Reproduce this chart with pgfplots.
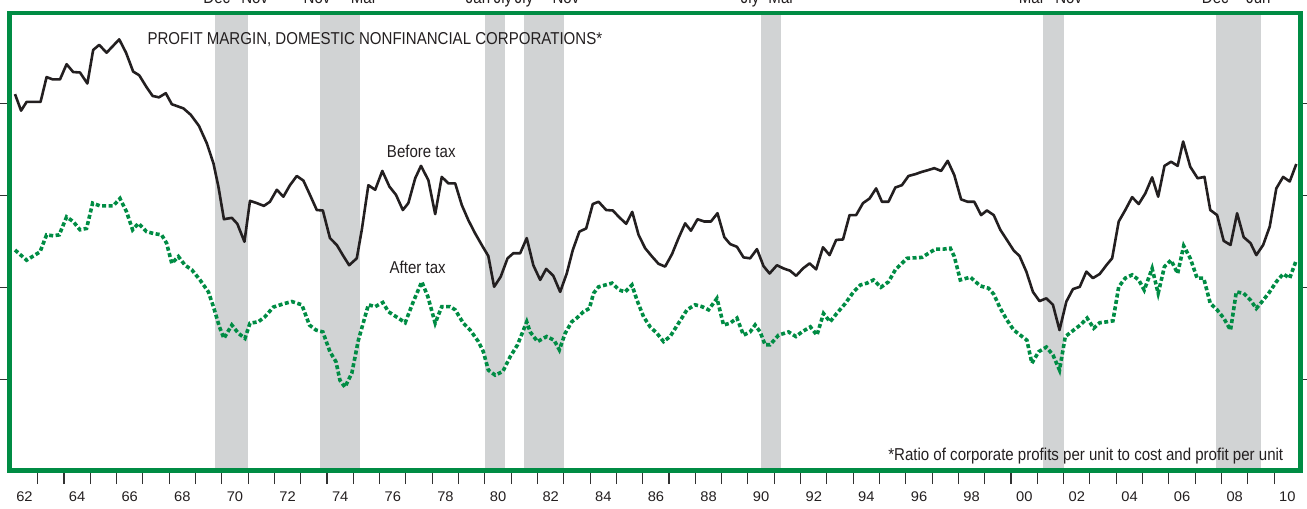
\documentclass[border=0pt]{standalone}
\usepackage{fontspec}
\setmainfont{Liberation Sans}[FakeStretch=0.875]
\newfontfamily\tickfont{Liberation Sans}[FakeStretch=1.05]
\usepackage{pgfplots}
\pgfplotsset{compat=1.18}
\definecolor{fgreen}{RGB}{0,140,68}
\definecolor{bandc}{RGB}{209,211,212}
\definecolor{linec}{RGB}{35,31,32}
\definecolor{textc}{RGB}{35,31,32}
\definecolor{tickc}{RGB}{50,50,50}
\newcommand\lab{\fontsize{17.2}{20}\selectfont}
\tikzset{mlab/.style={anchor=base, inner sep=0, text=textc, font=\lab, overlay}}
\begin{document}
\begin{tikzpicture}
\begin{axis}[name=ax, at={(0,0)}, anchor=south west,
  width=1291pt, height=457.2pt, scale only axis,
  xmin=1961.93, xmax=2011.0, ymin=4.017, ymax=13.957,
  clip=false, axis on top,
  axis line style={draw=fgreen, line width=4.4pt},
  tick align=outside,
  xtick pos=left, ytick pos=both,
  xtick={1962.5,1964.5,1966.5,1968.5,1970.5,1972.5,1974.5,1976.5,1978.5,1980.5,1982.5,1984.5,1986.5,1988.5,1990.5,1992.5,1994.5,1996.5,1998.5,2000.5,2002.5,2004.5,2006.5,2008.5,2010.5},
  xticklabels={62,64,66,68,70,72,74,76,78,80,82,84,86,88,90,92,94,96,98,00,02,04,06,08,10},
  major x tick style={draw=none},
  minor xtick={1963,1964,...,2010},
  minor tick length=13.5pt,
  minor x tick style={draw=tickc, line width=1.1pt},
  ytick={6,8,10,12}, yticklabels={},
  major tick length=10pt,
  major y tick style={draw=tickc, line width=1.1pt},
  xticklabel style={font=\tickfont\fontsize{14}{16}\selectfont, text=textc, anchor=base, yshift=-21pt},
]
% recession bands
\fill[bandc] (axis cs:1969.75,4.017) rectangle (axis cs:1971.0,13.957);
\fill[bandc] (axis cs:1973.75,4.017) rectangle (axis cs:1975.25,13.957);
\fill[bandc] (axis cs:1980.0,4.017) rectangle (axis cs:1980.75,13.957);
\fill[bandc] (axis cs:1981.5,4.017) rectangle (axis cs:1983.0,13.957);
\fill[bandc] (axis cs:1990.5,4.017) rectangle (axis cs:1991.25,13.957);
\fill[bandc] (axis cs:2001.2,4.017) rectangle (axis cs:2002.0,13.957);
\fill[bandc] (axis cs:2007.8,4.017) rectangle (axis cs:2009.5,13.957);
% before tax
\addplot[linec, line width=2.6pt, line join=round, mark=none] coordinates {
(1962.14,12.20)(1962.37,11.84)(1962.58,12.03)(1963.11,12.03)(1963.34,12.57)(1963.57,12.52)(1963.85,12.52)(1964.10,12.85)(1964.35,12.68)(1964.61,12.67)(1964.89,12.43)(1965.11,13.16)(1965.34,13.27)(1965.62,13.10)(1966.10,13.39)(1966.36,13.10)(1966.63,12.69)(1966.86,12.61)(1967.14,12.35)(1967.37,12.16)(1967.61,12.13)(1967.87,12.22)(1968.10,11.98)(1968.54,11.89)(1968.82,11.75)(1969.13,11.51)(1969.43,11.13)(1969.68,10.70)(1969.87,10.19)(1970.08,9.48)(1970.38,9.51)(1970.59,9.38)(1970.86,8.99)(1971.07,9.88)(1971.33,9.83)(1971.60,9.77)(1971.83,9.86)(1972.09,10.12)(1972.34,9.97)(1972.59,10.22)(1972.85,10.42)(1973.10,10.32)(1973.35,10.01)(1973.61,9.68)(1973.84,9.67)(1974.11,9.07)(1974.37,8.92)(1974.62,8.68)(1974.84,8.48)(1975.13,8.63)(1975.32,9.25)(1975.57,10.22)(1975.83,10.12)(1976.10,10.53)(1976.37,10.19)(1976.62,10.01)(1976.88,9.68)(1977.09,9.83)(1977.35,10.37)(1977.57,10.64)(1977.85,10.33)(1978.11,9.59)(1978.36,10.40)(1978.61,10.26)(1978.87,10.26)(1979.12,9.79)(1979.37,9.46)(1979.63,9.17)(1979.88,8.92)(1980.13,8.68)(1980.35,8.01)(1980.60,8.23)(1980.86,8.63)(1981.08,8.74)(1981.34,8.74)(1981.59,9.07)(1981.84,8.48)(1982.10,8.16)(1982.33,8.40)(1982.60,8.25)(1982.86,7.90)(1983.11,8.30)(1983.34,8.81)(1983.59,9.21)(1983.85,9.28)(1984.10,9.81)(1984.32,9.86)(1984.61,9.68)(1984.86,9.67)(1985.11,9.52)(1985.37,9.38)(1985.60,9.64)(1985.84,9.14)(1986.09,8.85)(1986.35,8.67)(1986.60,8.51)(1986.85,8.45)(1987.11,8.72)(1987.36,9.07)(1987.61,9.39)(1987.83,9.23)(1988.08,9.48)(1988.34,9.43)(1988.59,9.43)(1988.84,9.61)(1989.10,9.09)(1989.32,8.94)(1989.58,8.88)(1989.83,8.65)(1990.08,8.63)(1990.34,8.83)(1990.59,8.46)(1990.82,8.30)(1991.10,8.48)(1991.35,8.41)(1991.60,8.36)(1991.83,8.25)(1992.09,8.41)(1992.34,8.52)(1992.59,8.39)(1992.85,8.87)(1993.10,8.70)(1993.35,9.03)(1993.61,9.04)(1993.86,9.57)(1994.11,9.57)(1994.37,9.83)(1994.62,9.93)(1994.87,10.15)(1995.09,9.86)(1995.34,9.86)(1995.60,10.17)(1995.85,10.22)(1996.10,10.42)(1996.36,10.46)(1996.61,10.51)(1996.86,10.55)(1997.08,10.59)(1997.34,10.53)(1997.59,10.75)(1997.84,10.44)(1998.10,9.91)(1998.35,9.86)(1998.60,9.86)(1998.86,9.57)(1999.08,9.67)(1999.34,9.57)(1999.59,9.25)(1999.84,9.03)(2000.10,8.80)(2000.32,8.68)(2000.58,8.34)(2000.83,7.90)(2001.08,7.70)(2001.34,7.76)(2001.59,7.62)(2001.84,7.07)(2002.10,7.69)(2002.35,7.96)(2002.61,8.01)(2002.86,8.34)(2003.11,8.20)(2003.37,8.29)(2003.62,8.48)(2003.84,8.63)(2004.09,9.43)(2004.34,9.68)(2004.60,9.96)(2004.85,9.81)(2005.10,10.04)(2005.36,10.39)(2005.59,9.97)(2005.83,10.64)(2006.08,10.73)(2006.33,10.64)(2006.54,11.17)(2006.81,10.62)(2007.09,10.37)(2007.35,10.40)(2007.57,9.68)(2007.83,9.57)(2008.08,9.01)(2008.34,8.92)(2008.59,9.61)(2008.84,9.09)(2009.10,8.96)(2009.32,8.70)(2009.58,8.92)(2009.83,9.32)(2010.08,10.15)(2010.34,10.40)(2010.59,10.30)(2010.84,10.68)
};
% after tax
\addplot[fgreen, line width=3.6pt, dash pattern=on 4pt off 2.5pt, mark=none] coordinates {
(1962.14,8.81)(1962.58,8.59)(1963.09,8.77)(1963.34,9.14)(1963.59,9.12)(1963.82,9.14)(1964.10,9.53)(1964.35,9.43)(1964.61,9.25)(1964.86,9.28)(1965.09,9.83)(1965.37,9.77)(1965.62,9.77)(1965.87,9.77)(1966.13,9.93)(1966.38,9.64)(1966.61,9.25)(1966.83,9.39)(1967.14,9.21)(1967.40,9.17)(1967.71,9.14)(1967.90,8.96)(1968.10,8.52)(1968.35,8.67)(1968.60,8.48)(1968.86,8.38)(1969.17,8.16)(1969.49,7.90)(1969.68,7.58)(1969.91,7.14)(1970.08,6.89)(1970.38,7.18)(1970.63,7.00)(1970.88,6.89)(1971.07,7.22)(1971.39,7.25)(1971.64,7.36)(1971.96,7.57)(1972.34,7.64)(1972.66,7.69)(1973.04,7.62)(1973.33,7.18)(1973.58,7.07)(1973.84,7.03)(1974.11,6.60)(1974.34,6.38)(1974.49,5.98)(1974.68,5.83)(1974.94,6.13)(1975.19,6.85)(1975.57,7.62)(1975.83,7.58)(1976.12,7.67)(1976.33,7.47)(1976.71,7.33)(1976.97,7.23)(1977.28,7.69)(1977.60,8.12)(1977.83,7.80)(1978.11,7.22)(1978.36,7.58)(1978.68,7.58)(1978.87,7.51)(1979.18,7.22)(1979.44,7.07)(1979.75,6.82)(1979.94,6.60)(1980.13,6.20)(1980.39,6.09)(1980.68,6.17)(1980.96,6.49)(1981.24,6.75)(1981.59,7.25)(1981.72,7.03)(1982.00,6.82)(1982.35,6.93)(1982.63,6.85)(1982.83,6.64)(1983.05,7.00)(1983.30,7.25)(1983.49,7.33)(1983.75,7.47)(1983.97,7.54)(1984.13,7.87)(1984.32,8.01)(1984.83,8.09)(1985.11,7.94)(1985.33,7.90)(1985.59,8.05)(1985.78,7.72)(1986.03,7.36)(1986.28,7.14)(1986.54,7.00)(1986.79,6.82)(1987.04,6.93)(1987.36,7.22)(1987.68,7.51)(1987.99,7.62)(1988.25,7.58)(1988.50,7.51)(1988.82,7.76)(1989.07,7.18)(1989.32,7.22)(1989.58,7.33)(1989.83,6.96)(1990.08,7.03)(1990.27,7.18)(1990.46,7.03)(1990.65,6.75)(1990.84,6.75)(1991.16,6.96)(1991.54,7.03)(1991.82,6.93)(1992.05,7.03)(1992.37,7.14)(1992.62,6.96)(1992.87,7.43)(1993.12,7.25)(1993.37,7.43)(1993.70,7.65)(1994.01,7.90)(1994.27,8.05)(1994.52,8.09)(1994.77,8.16)(1995.05,8.00)(1995.34,8.12)(1995.60,8.38)(1996.04,8.63)(1996.61,8.65)(1997.12,8.83)(1997.43,8.83)(1997.69,8.85)(1997.84,8.67)(1998.07,8.16)(1998.45,8.22)(1998.83,8.03)(1999.14,7.98)(1999.34,7.85)(1999.59,7.54)(1999.84,7.29)(2000.10,7.07)(2000.35,6.96)(2000.60,6.85)(2000.79,6.35)(2001.05,6.60)(2001.34,6.70)(2001.59,6.53)(2001.84,6.20)(2002.06,6.93)(2002.38,7.07)(2002.63,7.18)(2002.89,7.33)(2003.14,7.11)(2003.37,7.23)(2003.65,7.25)(2003.87,7.27)(2004.09,8.01)(2004.34,8.20)(2004.60,8.27)(2004.85,8.16)(2005.06,7.94)(2005.36,8.41)(2005.59,7.87)(2005.83,8.45)(2006.08,8.59)(2006.33,8.30)(2006.56,8.90)(2006.81,8.63)(2007.07,8.20)(2007.32,8.20)(2007.57,7.65)(2007.83,7.51)(2008.08,7.33)(2008.34,7.07)(2008.56,7.90)(2008.84,7.87)(2009.10,7.72)(2009.32,7.54)(2009.54,7.69)(2009.79,7.87)(2010.08,8.12)(2010.34,8.29)(2010.59,8.20)(2010.84,8.59)
};
% texts
\node[anchor=base west, inner sep=0, text=textc, font=\lab] at (axis cs:1967.17,13.28) {PROFIT MARGIN, DOMESTIC NONFINANCIAL CORPORATIONS*};
\node[anchor=base west, inner sep=0, text=textc, font=\lab] at (axis cs:1976.27,10.83) {Before tax};
\node[anchor=base west, inner sep=0, text=textc, font=\lab] at (axis cs:1976.37,8.31) {After tax};
\node[anchor=base east, inner sep=0, text=textc, font=\lab] at (axis cs:2010.35,4.23) {*Ratio of corporate profits per unit to cost and profit per unit};
% recession month labels (cut by the top edge)
\node[mlab] at (axis cs:1969.81,14.16) {Dec};
\node[mlab] at (axis cs:1971.25,14.16) {Nov};
\node[mlab] at (axis cs:1973.62,14.16) {Nov};
\node[mlab] at (axis cs:1975.40,14.16) {Mar};
\node[mlab] at (axis cs:1979.74,14.16) {Jan};
\node[mlab] at (axis cs:1980.69,14.16) {Jly};
\node[mlab] at (axis cs:1981.49,14.16) {Jly};
\node[mlab] at (axis cs:1983.08,14.16) {Nov};
\node[mlab] at (axis cs:1990.08,14.16) {Jly};
\node[mlab] at (axis cs:1991.27,14.16) {Mar};
\node[mlab] at (axis cs:2000.79,14.16) {Mar};
\node[mlab] at (axis cs:2002.19,14.16) {Nov};
\node[mlab] at (axis cs:2007.76,14.16) {Dec};
\node[mlab] at (axis cs:2009.40,14.16) {Jun};
\end{axis}
\pgfresetboundingbox
\useasboundingbox ([xshift=-9.5pt,yshift=-37.5pt]ax.south west) rectangle ([xshift=6.5pt,yshift=13.3pt]ax.north east);
\end{tikzpicture}
\end{document}
